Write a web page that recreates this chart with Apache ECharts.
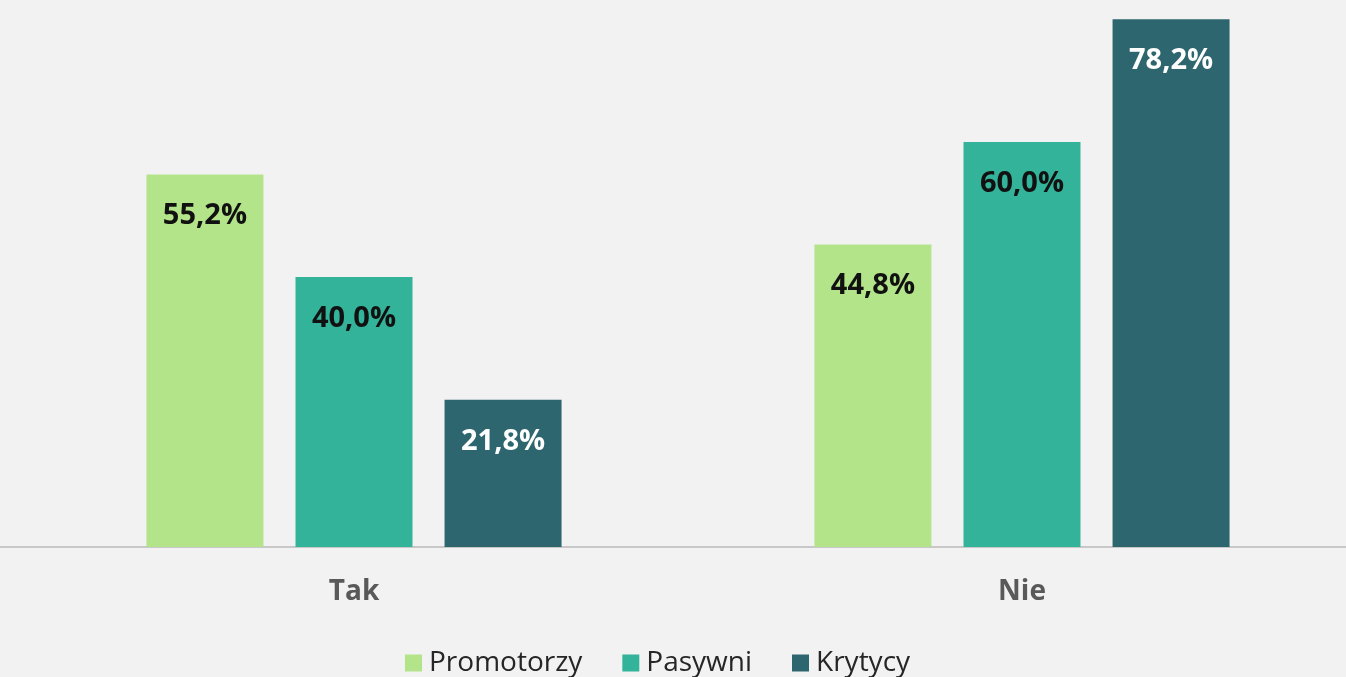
<!DOCTYPE html>
<html>
<head>
<meta charset="utf-8">
<script src="https://cdn.jsdelivr.net/npm/echarts@6/dist/echarts.min.js"></script>
<style>
  html, body { margin: 0; padding: 0; background: #f2f2f2; overflow: hidden; }
  #chart { width: 1356px; height: 677px; }
</style>
</head>
<body>
<div id="chart"></div>
<script>
var categories = ['Tak', 'Nie'];
var promotorzy = [55.2, 44.8];
var pasywni = [40.0, 60.0];
var krytycy = [21.8, 78.2];

function fmt(p) {
    return p.value.toFixed(1).replace('.', ',') + '%';
}

function barSeries(name, data, color, labelColor) {
    return {
        name: name,
        type: 'bar',
        data: data,
        barWidth: 117,
        barGap: '27.4%',
        itemStyle: { color: color },
        label: {
            show: true,
            position: 'insideTop',
            distance: 27,
            formatter: fmt,
            color: labelColor,
            fontFamily: 'Open Sans',
            fontWeight: 'bold',
            fontSize: 29
        }
    };
}

var myChart = echarts.init(document.getElementById('chart'));
var option = {
    backgroundColor: '#f2f2f2',
    animation: false,
    grid: [
        { left: 20, right: 0, top: 7, bottom: 130 },
        // full-width strip so the baseline runs to the left edge
        { left: 0, right: 0, top: 7, bottom: 130 }
    ],
    legend: {
        bottom: -5,
        left: 400,
        itemWidth: 17,
        itemHeight: 17,
        itemGap: 40,
        icon: 'rect',
        textStyle: {
            fontFamily: 'Open Sans',
            fontSize: 28,
            color: '#262626',
            padding: [0, 0, 0, 2]
        },
        data: ['Promotorzy', 'Pasywni', 'Krytycy']
    },
    xAxis: [
        {
            type: 'category',
            gridIndex: 0,
            data: categories,
            axisTick: { show: false },
            axisLine: { show: false },
            axisLabel: {
                margin: 31,
                color: '#595959',
                fontFamily: 'Open Sans',
                fontWeight: 'bold',
                fontSize: 28
            }
        },
        {
            type: 'category',
            gridIndex: 1,
            data: [''],
            axisTick: { show: false },
            axisLabel: { show: false },
            axisLine: { lineStyle: { color: '#c8c8c8', width: 2 } }
        }
    ],
    yAxis: [
        { type: 'value', gridIndex: 0, min: 0, max: 80, show: false },
        { type: 'value', gridIndex: 1, min: 0, max: 80, show: false }
    ],
    series: [
        barSeries('Promotorzy', promotorzy, '#b3e48a', '#111111'),
        barSeries('Pasywni', pasywni, '#33b39a', '#111111'),
        barSeries('Krytycy', krytycy, '#2e6670', '#ffffff')
    ]
};
myChart.setOption(option);
</script>
</body>
</html>
